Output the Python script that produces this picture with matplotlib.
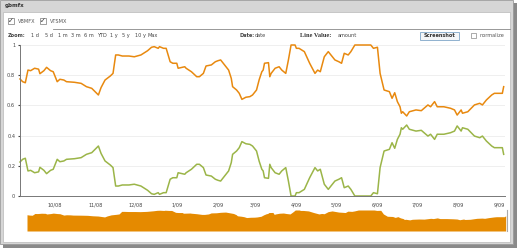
import pandas as pd
import matplotlib
matplotlib.use("Agg")
import matplotlib.pyplot as plt
import matplotlib.dates as mdates
from matplotlib.patches import Rectangle
from matplotlib.ticker import FuncFormatter

dates = [
    "2008-09-05", "2008-09-07", "2008-09-09", "2008-09-11", "2008-09-13", "2008-09-16",
    "2008-09-19", "2008-09-20", "2008-09-23", "2008-09-25", "2008-09-28", "2008-09-30",
    "2008-10-03", "2008-10-05", "2008-10-08", "2008-10-10", "2008-10-16", "2008-10-21",
    "2008-10-25", "2008-10-29", "2008-11-03", "2008-11-05", "2008-11-08", "2008-11-12",
    "2008-11-14", "2008-11-16", "2008-11-18", "2008-11-21", "2008-11-26", "2008-11-30",
    "2008-12-05", "2008-12-10", "2008-12-13", "2008-12-15", "2008-12-18", "2008-12-19",
    "2008-12-22", "2008-12-24", "2008-12-27", "2008-12-29", "2009-01-01", "2009-01-02",
    "2009-01-05", "2009-01-07", "2009-01-08", "2009-01-12", "2009-01-16", "2009-01-18",
    "2009-01-21", "2009-01-23", "2009-01-27", "2009-01-30", "2009-02-01", "2009-02-03",
    "2009-02-06", "2009-02-09", "2009-02-11", "2009-02-12", "2009-02-15", "2009-02-17",
    "2009-02-19", "2009-02-22", "2009-02-25", "2009-02-27", "2009-03-02", "2009-03-04",
    "2009-03-06", "2009-03-07", "2009-03-08", "2009-03-11", "2009-03-12", "2009-03-13",
    "2009-03-16", "2009-03-19", "2009-03-21", "2009-03-24", "2009-03-26", "2009-03-28",
    "2009-03-31", "2009-04-01", "2009-04-03", "2009-04-07", "2009-04-11", "2009-04-15",
    "2009-04-17", "2009-04-19", "2009-04-22", "2009-04-25", "2009-04-27", "2009-04-30",
    "2009-05-03", "2009-05-05", "2009-05-07", "2009-05-10", "2009-05-12", "2009-05-15",
    "2009-05-27", "2009-05-29", "2009-06-01", "2009-06-03", "2009-06-06", "2009-06-10",
    "2009-06-12", "2009-06-14", "2009-06-16", "2009-06-18", "2009-06-19", "2009-06-20",
    "2009-06-23", "2009-06-25", "2009-06-30", "2009-07-04", "2009-07-09", "2009-07-11",
    "2009-07-14", "2009-07-16", "2009-07-21", "2009-07-26", "2009-07-29", "2009-07-31",
    "2009-08-03", "2009-08-04", "2009-08-08", "2009-08-13", "2009-08-17", "2009-08-19",
    "2009-08-22", "2009-08-26", "2009-08-28", "2009-09-03", "2009-09-04",
]

vbmfx = [
    0.775, 0.757, 0.750, 0.834, 0.830, 0.846,
    0.840, 0.810, 0.830, 0.852, 0.830, 0.823,
    0.757, 0.773, 0.768, 0.757, 0.753, 0.746,
    0.724, 0.713, 0.669, 0.718, 0.768, 0.795,
    0.812, 0.934, 0.934, 0.927, 0.927, 0.922,
    0.934, 0.962, 0.985, 0.989, 0.978, 0.989,
    0.978, 0.978, 0.889, 0.879, 0.879, 0.846,
    0.852, 0.856, 0.846, 0.823, 0.790, 0.790,
    0.812, 0.861, 0.868, 0.889, 0.896, 0.901,
    0.868, 0.834, 0.779, 0.724, 0.702, 0.680,
    0.640, 0.654, 0.658, 0.669, 0.702, 0.770,
    0.823, 0.834, 0.879, 0.883, 0.790, 0.812,
    0.846, 0.856, 0.834, 0.812, 0.901, 1.000,
    1.000, 0.978, 0.978, 0.956, 0.879, 0.812,
    0.834, 0.823, 0.922, 0.956, 0.934, 0.901,
    0.889, 0.879, 0.945, 0.934, 0.956, 1.000,
    1.000, 0.978, 0.985, 0.812, 0.702, 0.691,
    0.647, 0.684, 0.625, 0.591, 0.548, 0.558,
    0.530, 0.558, 0.570, 0.565, 0.603, 0.591,
    0.625, 0.591, 0.591, 0.581, 0.570, 0.536,
    0.570, 0.548, 0.558, 0.603, 0.614, 0.603,
    0.636, 0.669, 0.680, 0.680, 0.724,
]

vtsmx = [
    0.225, 0.243, 0.250, 0.166, 0.170, 0.154,
    0.160, 0.190, 0.170, 0.148, 0.170, 0.177,
    0.243, 0.227, 0.232, 0.243, 0.247, 0.254,
    0.276, 0.287, 0.331, 0.282, 0.232, 0.205,
    0.188, 0.066, 0.066, 0.073, 0.073, 0.078,
    0.066, 0.038, 0.015, 0.011, 0.022, 0.011,
    0.022, 0.022, 0.111, 0.121, 0.121, 0.154,
    0.148, 0.144, 0.154, 0.177, 0.210, 0.210,
    0.188, 0.139, 0.132, 0.111, 0.104, 0.099,
    0.132, 0.166, 0.221, 0.276, 0.298, 0.320,
    0.360, 0.346, 0.342, 0.331, 0.298, 0.230,
    0.177, 0.166, 0.121, 0.117, 0.210, 0.188,
    0.154, 0.144, 0.166, 0.188, 0.099, 0.000,
    0.000, 0.022, 0.022, 0.044, 0.121, 0.188,
    0.166, 0.177, 0.078, 0.044, 0.066, 0.099,
    0.111, 0.121, 0.055, 0.066, 0.044, 0.000,
    0.000, 0.022, 0.015, 0.188, 0.298, 0.309,
    0.353, 0.316, 0.375, 0.409, 0.452, 0.442,
    0.470, 0.442, 0.430, 0.435, 0.397, 0.409,
    0.375, 0.409, 0.409, 0.419, 0.430, 0.464,
    0.430, 0.452, 0.442, 0.397, 0.386, 0.397,
    0.364, 0.331, 0.320, 0.320, 0.276,
]

yticks = [0, 0.2, 0.4, 0.6, 0.8, 1]
ytick_labels = ["0", "0.2", "0.4", "0.6", "0.8", "1"]
zoom_buttons = ["1 d", "5 d", "1 m", "3 m", "6 m", "YTD", "1 y", "5 y", "10 y", "Max"]
zoom_x = [31, 45, 58, 71, 84, 97, 110, 122, 135, 148]

W, H = 521, 252
ORANGE = "#e8890f"
GREEN = "#9bb548"

d = pd.to_datetime(dates)
x0, x1 = pd.Timestamp("2008-09-05"), pd.Timestamp("2009-09-05")


def box(x, y, w, h):
    # pixel box (top-left origin) -> figure fractions
    return (x / W, 1 - (y + h) / H, w / W, h / H)


def fx(x):
    return x / W


def fy(y):
    return 1 - y / H


fig = plt.figure(figsize=(W / 100, H / 100), dpi=100, facecolor="white")


def rect(x, y, w, h, z=-5, **kw):
    b = box(x, y, w, h)
    fig.add_artist(Rectangle((b[0], b[1]), b[2], b[3], transform=fig.transFigure,
                             zorder=z, **kw))


# frame of the screenshot
rect(3, 3, 514, 245, z=-10, facecolor="#8a8a8a", edgecolor="none")       # shadow
rect(0, 0, 513, 244, z=-9, facecolor="#d6d6d6", edgecolor="#9a9a9a", lw=0.6)
rect(3, 12, 507, 230, z=-8, facecolor="white", edgecolor="#b8b8b8", lw=0.5)
fig.text(fx(5), fy(6), "gbmfx", fontsize=4, fontweight="bold", color="#333333", va="center")

# series checkboxes
for cx, name in [(8, "VBMFX"), (40, "VTSMX")]:
    rect(cx, 18, 6, 6, z=2, facecolor="white", edgecolor="#777777", lw=0.5)
    fig.text(fx(cx + 3), fy(21), "\u2713", fontsize=5, color="#333333", ha="center",
             va="center", zorder=3)
    fig.text(fx(cx + 10), fy(21.5), name, fontsize=3.6, color="#555555", va="center")
fig.add_artist(plt.Line2D([fx(53), fx(510)], [fy(29), fy(29)], transform=fig.transFigure,
                          color="#888888", lw=0.6))

# zoom row
fig.text(fx(8), fy(36), "Zoom:", fontsize=3.6, fontweight="bold", color="#444444", va="center")
for zx, lab in zip(zoom_x, zoom_buttons):
    fig.text(fx(zx), fy(36), lab, fontsize=3.6, color="#444444", va="center")
fig.text(fx(240), fy(36), "Date:", fontsize=3.6, fontweight="bold", color="#444444", va="center")
fig.text(fx(255), fy(36), "date", fontsize=3.6, color="#444444", va="center")
fig.text(fx(300), fy(36), "Line Value:", fontsize=4.6, fontweight="bold", family="Liberation Serif",
         color="#333333", va="center")
fig.text(fx(338), fy(36), "amount", fontsize=3.6, color="#444444", va="center")
rect(420, 32, 39, 8, z=2, facecolor="#f4f6f8", edgecolor="#7fa6c8", lw=0.6)
fig.text(fx(439.5), fy(36), "Screenshot", fontsize=3.6, fontweight="bold", color="#333333",
         ha="center", va="center", zorder=3)
rect(471, 33, 5, 5, z=2, facecolor="white", edgecolor="#888888", lw=0.5)
fig.text(fx(480), fy(36), "normalize", fontsize=3.6, color="#555555", va="center")

# main chart
ax = fig.add_axes(box(20, 45, 485, 151))
ax.patch.set_alpha(0)
ax.plot(d, vbmfx, color=ORANGE, lw=1.1, clip_on=False)
ax.plot(d, vtsmx, color=GREEN, lw=1.1, clip_on=False)
ax.set_xlim(x0, x1)
ax.set_ylim(0, 1)
ax.set_yticks(yticks)
ax.set_yticklabels(ytick_labels)
ax.grid(axis="y", color="#ececec", lw=0.6)
ax.set_axisbelow(True)
for s in ["top", "right"]:
    ax.spines[s].set_visible(False)
for s in ["left", "bottom"]:
    ax.spines[s].set_color("#777777")
    ax.spines[s].set_linewidth(0.7)
ax.xaxis.set_major_locator(mdates.MonthLocator(bymonthday=1))
ax.xaxis.set_major_formatter(FuncFormatter(
    lambda v, p: "%d/%s" % (mdates.num2date(v).month, mdates.num2date(v).strftime("%y"))))
ax.tick_params(axis="x", length=0, labelsize=3.6, colors="#444444", pad=4.5)
ax.tick_params(axis="y", length=1.5, labelsize=3.6, colors="#444444", pad=2)

# navigator
nav = fig.add_axes(box(27, 210, 480, 21))
nav.fill_between(d, vbmfx, color="#e58a00", lw=0)
nav.set_xlim(x0, x1)
nav.set_ylim(0, 1)
nav.axis("off")
fig.add_artist(plt.Line2D([fx(507), fx(507)], [fy(210), fy(231)], transform=fig.transFigure,
                          color="#aaaaaa", lw=0.8))

fig.savefig("out.png", dpi=100, facecolor=fig.get_facecolor())
